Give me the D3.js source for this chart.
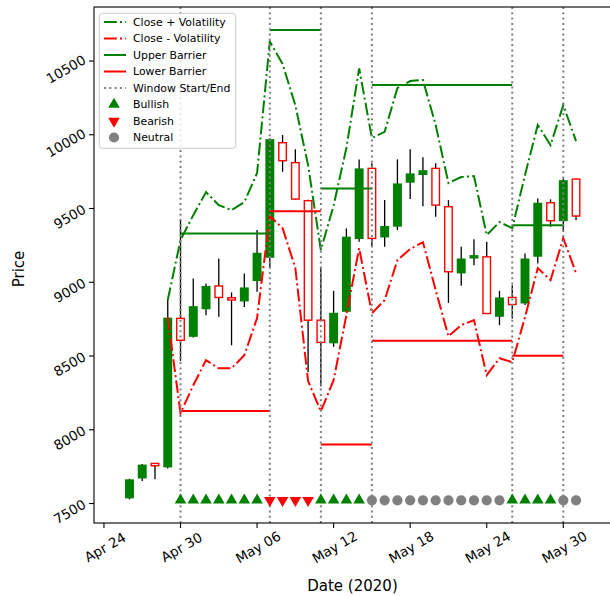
<!DOCTYPE html>
<html>
<head>
<meta charset="utf-8">
<script src="https://cdn.jsdelivr.net/npm/d3@7"></script>
<style>
  body { margin: 0; background: #fff; }
  svg { display: block; font-family: "DejaVu Sans", sans-serif; }
</style>
</head>
<body>
<script>
// Daily candles
var dates = ["2020-04-26","2020-04-27","2020-04-28","2020-04-29","2020-04-30",
  "2020-05-01","2020-05-02","2020-05-03","2020-05-04","2020-05-05","2020-05-06","2020-05-07",
  "2020-05-08","2020-05-09","2020-05-10","2020-05-11","2020-05-12","2020-05-13","2020-05-14",
  "2020-05-15","2020-05-16","2020-05-17","2020-05-18","2020-05-19","2020-05-20","2020-05-21",
  "2020-05-22","2020-05-23","2020-05-24","2020-05-25","2020-05-26","2020-05-27","2020-05-28",
  "2020-05-29","2020-05-30","2020-05-31"];
var opens  = [7535,7670,7772,7745,8755, 8630,8817,8975,8895,8870,9008,9166, 9946,9811,9553,8743,8586,8800,9293,
              9772,9304,9377,9675,9727,9772,9512, 9060,9161,9172,8766,8897,8856,9173, 9539,9414,9699];
var highs  = [7668,7768,7775,8879,9426, 9026,8992,9161,8931,9060,9354,9976, 9998,9901,9560,9105,8942,9365,9833,
              9806,9557,9833,9901,9847,9806,9557, 9240,9292,9274,8942,8980,9195,9568, 9562,9704,9704];
var lows   = [7528,7653,7664,7737,8467, 8625,8777,8766,8573,8833,8935,9096, 9749,9560,8392,8295,8562,8795,9274,
              9240,9240,9353,9564,9516,9444,8860, 8976,9116,8785,8709,8754,8845,9128, 9376,9342,9421];
var closes = [7664,7764,7756,8760,8607, 8838,8975,8897,8880,8965,9200,9970, 9824,9564,8743,8592,8793,9309,9772,
              9297,9381,9670,9738,9760,9523,9071, 9161,9184,8788,8897,8849,9161,9539, 9417,9692,9449];

// Close +/- volatility (from Apr 29)
var volDates = ["2020-04-29","2020-04-30","2020-05-01","2020-05-02","2020-05-03","2020-05-04","2020-05-05",
  "2020-05-06","2020-05-07","2020-05-08","2020-05-09","2020-05-10","2020-05-11","2020-05-12","2020-05-13",
  "2020-05-14","2020-05-15","2020-05-16","2020-05-17","2020-05-18","2020-05-19","2020-05-20","2020-05-21",
  "2020-05-22","2020-05-23","2020-05-24","2020-05-25","2020-05-26","2020-05-27","2020-05-28","2020-05-29",
  "2020-05-30","2020-05-31"];
var closePlusVol  = [8880,9286,9455,9611,9523,9489,9543,9740,10631,10480,10200,9794,9218,9520,9910,
                     10450,9978,10020,10317,10364,10371,10066,9672,9713,9720,9320,9408,9367,9727,10066,9930,10201,9957];
var closeMinusVol = [8763,8112,8302,8472,8417,8417,8505,8757,9448,9367,9096,8330,8126,8336,8777,
                     9231,8790,8879,9150,9225,9272,8946,8634,8709,8743,8370,8485,8458,8763,9096,9014,9299,9062];

// Windows and barriers
var windowStart  = ["2020-04-30","2020-05-07","2020-05-11","2020-05-15","2020-05-26"];
var windowEnd    = ["2020-05-07","2020-05-11","2020-05-15","2020-05-26","2020-05-30"];
var upperBarrier = [9331,10710,9636,10337,9387];
var lowerBarrier = [8128,9482,7900,8603,8501];

// Signals
var signalDates = ["2020-04-30","2020-05-01","2020-05-02","2020-05-03","2020-05-04","2020-05-05","2020-05-06",
  "2020-05-07","2020-05-08","2020-05-09","2020-05-10","2020-05-11","2020-05-12","2020-05-13","2020-05-14",
  "2020-05-15","2020-05-16","2020-05-17","2020-05-18","2020-05-19","2020-05-20","2020-05-21","2020-05-22",
  "2020-05-23","2020-05-24","2020-05-25","2020-05-26","2020-05-27","2020-05-28","2020-05-29","2020-05-30","2020-05-31"];
var signals = ["Bullish","Bullish","Bullish","Bullish","Bullish","Bullish","Bullish",
  "Bearish","Bearish","Bearish","Bearish","Bullish","Bullish","Bullish","Bullish",
  "Neutral","Neutral","Neutral","Neutral","Neutral","Neutral","Neutral","Neutral","Neutral","Neutral","Neutral",
  "Bullish","Bullish","Bullish","Bullish","Neutral","Neutral"];
var signalLevel = 7522;

// Ticks
var xTicks = ["2020-04-24","2020-04-30","2020-05-06","2020-05-12","2020-05-18","2020-05-24","2020-05-30"];
var yTicks = [7500,8000,8500,9000,9500,10000,10500];

var width = 610, height = 596;
var plotLeft = 94, plotRight = 611, plotTop = 7, plotBottom = 523;
var parse = d3.utcParse("%Y-%m-%d");
var DAY = 864e5;
var t0 = +parse("2020-04-24");

var x = d3.scaleUtc()
    .domain([new Date(t0 - 0.78 * DAY), new Date(t0 + 39.74 * DAY)])
    .range([plotLeft, plotRight]);
var y = d3.scaleLinear()
    .domain([7368, 10866])
    .range([plotBottom, plotTop]);

var GREEN = "#008000", RED = "#ff0000", GREY = "#808080";

var svg = d3.select("body").append("svg")
    .attr("width", width)
    .attr("height", height);

var plot = svg.append("g");

// Candles
var candles = dates.map(function(d, i) {
  return {date: parse(d), o: opens[i], h: highs[i], l: lows[i], c: closes[i]};
});
var halfW = 0.35 * DAY;

plot.selectAll(".wick").data(candles).enter().append("line")
    .attr("x1", d => x(d.date)).attr("x2", d => x(d.date))
    .attr("y1", d => y(d.h)).attr("y2", d => y(d.l))
    .attr("stroke", "black").attr("stroke-width", 1.3);

plot.selectAll(".body").data(candles).enter().append("rect")
    .attr("x", d => x(new Date(+d.date - halfW)) + (d.c >= d.o ? 0 : 0.7))
    .attr("width", d => x(new Date(+d.date + halfW)) - x(new Date(+d.date - halfW)) - (d.c >= d.o ? 0 : 1.4))
    .attr("y", d => y(Math.max(d.o, d.c)))
    .attr("height", d => Math.max(1, y(Math.min(d.o, d.c)) - y(Math.max(d.o, d.c))))
    .attr("fill", d => d.c >= d.o ? GREEN : "white")
    .attr("stroke", d => d.c >= d.o ? "none" : RED)
    .attr("stroke-width", 1.4);

// Volatility lines
var dashDot = "12.8,3.2,2,3.2";
var volLine = d3.line()
    .x(function(d) { return x(parse(d[0])); })
    .y(function(d) { return y(d[1]); });

plot.append("path")
    .attr("d", volLine(volDates.map((d, i) => [d, closePlusVol[i]])))
    .attr("fill", "none").attr("stroke", GREEN).attr("stroke-width", 2)
    .attr("stroke-dasharray", dashDot);
plot.append("path")
    .attr("d", volLine(volDates.map((d, i) => [d, closeMinusVol[i]])))
    .attr("fill", "none").attr("stroke", RED).attr("stroke-width", 2)
    .attr("stroke-dasharray", dashDot);

// Barriers
windowStart.forEach(function(s, i) {
  plot.append("line")
      .attr("x1", x(parse(s))).attr("x2", x(parse(windowEnd[i])))
      .attr("y1", y(upperBarrier[i])).attr("y2", y(upperBarrier[i]))
      .attr("stroke", GREEN).attr("stroke-width", 2);
  plot.append("line")
      .attr("x1", x(parse(s))).attr("x2", x(parse(windowEnd[i])))
      .attr("y1", y(lowerBarrier[i])).attr("y2", y(lowerBarrier[i]))
      .attr("stroke", RED).attr("stroke-width", 2);
});

// Window start/end lines
var windowLines = Array.from(new Set(windowStart.concat(windowEnd)));
plot.selectAll(".win").data(windowLines).enter().append("line")
    .attr("x1", d => x(parse(d))).attr("x2", d => x(parse(d)))
    .attr("y1", plotTop).attr("y2", plotBottom)
    .attr("stroke", GREY).attr("stroke-width", 2)
    .attr("stroke-dasharray", "2,3.3");

// Signal markers
var triangle = d3.symbol().type(d3.symbolTriangle).size(58);
var circle = d3.symbol().type(d3.symbolCircle).size(82);
signalDates.forEach(function(d, i) {
  var s = signals[i];
  var px = x(parse(d)), py = y(signalLevel);
  if (s === "Neutral") {
    plot.append("path").attr("d", circle()).attr("fill", GREY)
        .attr("transform", "translate(" + px + "," + py + ")");
  } else {
    plot.append("path").attr("d", triangle())
        .attr("fill", s === "Bullish" ? GREEN : RED)
        .attr("transform", "translate(" + px + "," + py + ")" + (s === "Bearish" ? " rotate(180)" : ""));
  }
});

// Axes frame
svg.append("rect")
    .attr("x", plotLeft).attr("y", plotTop)
    .attr("width", plotRight - plotLeft).attr("height", plotBottom - plotTop)
    .attr("fill", "none").attr("stroke", "black").attr("stroke-width", 1.1);

// Y ticks
var tickFont = 13.5;
yTicks.forEach(function(v) {
  var ty = y(v);
  svg.append("line").attr("x1", plotLeft - 5).attr("x2", plotLeft).attr("y1", ty).attr("y2", ty)
      .attr("stroke", "black").attr("stroke-width", 1.1);
  var t = svg.append("text")
      .attr("font-size", tickFont)
      .attr("text-anchor", "middle")
      .attr("dominant-baseline", "central")
      .text(d3.format("d")(v));
  var L = t.node().getComputedTextLength();
  var h = 0.75 * tickFont;
  var bw = L * Math.cos(Math.PI / 6) + h * 0.5;
  t.attr("transform", "translate(" + (87 - bw / 2) + "," + (ty + 8) + ") rotate(-30)");
});

// X ticks
var fmt = d3.utcFormat("%b %d");
xTicks.forEach(function(d) {
  var tx = x(parse(d));
  svg.append("line").attr("x1", tx).attr("x2", tx).attr("y1", plotBottom).attr("y2", plotBottom + 5)
      .attr("stroke", "black").attr("stroke-width", 1.1);
  svg.append("text")
      .attr("font-size", tickFont)
      .attr("text-anchor", "middle")
      .attr("dominant-baseline", "central")
      .attr("transform", "translate(" + (tx + 1) + "," + 547 + ") rotate(-30)")
      .text(fmt(parse(d)));
});

// Axis labels
svg.append("text")
    .attr("font-size", 15)
    .attr("text-anchor", "middle")
    .attr("dominant-baseline", "central")
    .attr("transform", "translate(19," + ((plotTop + plotBottom) / 2 + 4) + ") rotate(-90)")
    .text("Price");
svg.append("text")
    .attr("font-size", 15)
    .attr("text-anchor", "middle")
    .attr("dominant-baseline", "central")
    .attr("x", (plotLeft + plotRight) / 2).attr("y", 586)
    .text("Date (2020)");

// Legend
var legend = svg.append("g");
legend.append("rect")
    .attr("x", 99.3).attr("y", 13.3).attr("width", 136.4).attr("height", 135)
    .attr("rx", 3)
    .attr("fill", "white").attr("fill-opacity", 0.8)
    .attr("stroke", "#cccccc").attr("stroke-width", 1);

var legendItems = [
  {label: "Close + Volatility", kind: "line", color: GREEN, dash: dashDot},
  {label: "Close - Volatility", kind: "line", color: RED, dash: dashDot},
  {label: "Upper Barrier", kind: "line", color: GREEN, dash: null},
  {label: "Lower Barrier", kind: "line", color: RED, dash: null},
  {label: "Window Start/End", kind: "line", color: GREY, dash: "2,3.3"},
  {label: "Bullish", kind: "up", color: GREEN},
  {label: "Bearish", kind: "down", color: RED},
  {label: "Neutral", kind: "circle", color: GREY}
];
legendItems.forEach(function(it, i) {
  var ly = 22 + i * 16.5;
  if (it.kind === "line") {
    legend.append("line")
        .attr("x1", 104).attr("x2", 126).attr("y1", ly).attr("y2", ly)
        .attr("stroke", it.color).attr("stroke-width", 2)
        .attr("stroke-dasharray", it.dash);
  } else if (it.kind === "circle") {
    legend.append("path").attr("d", circle()).attr("fill", it.color)
        .attr("transform", "translate(114," + ly + ")");
  } else {
    legend.append("path").attr("d", triangle()).attr("fill", it.color)
        .attr("transform", "translate(114," + ly + ")" + (it.kind === "down" ? " rotate(180)" : ""));
  }
  legend.append("text")
      .attr("x", 133).attr("y", ly)
      .attr("font-size", 10.9)
      .attr("dominant-baseline", "central")
      .text(it.label);
});
</script>
</body>
</html>
